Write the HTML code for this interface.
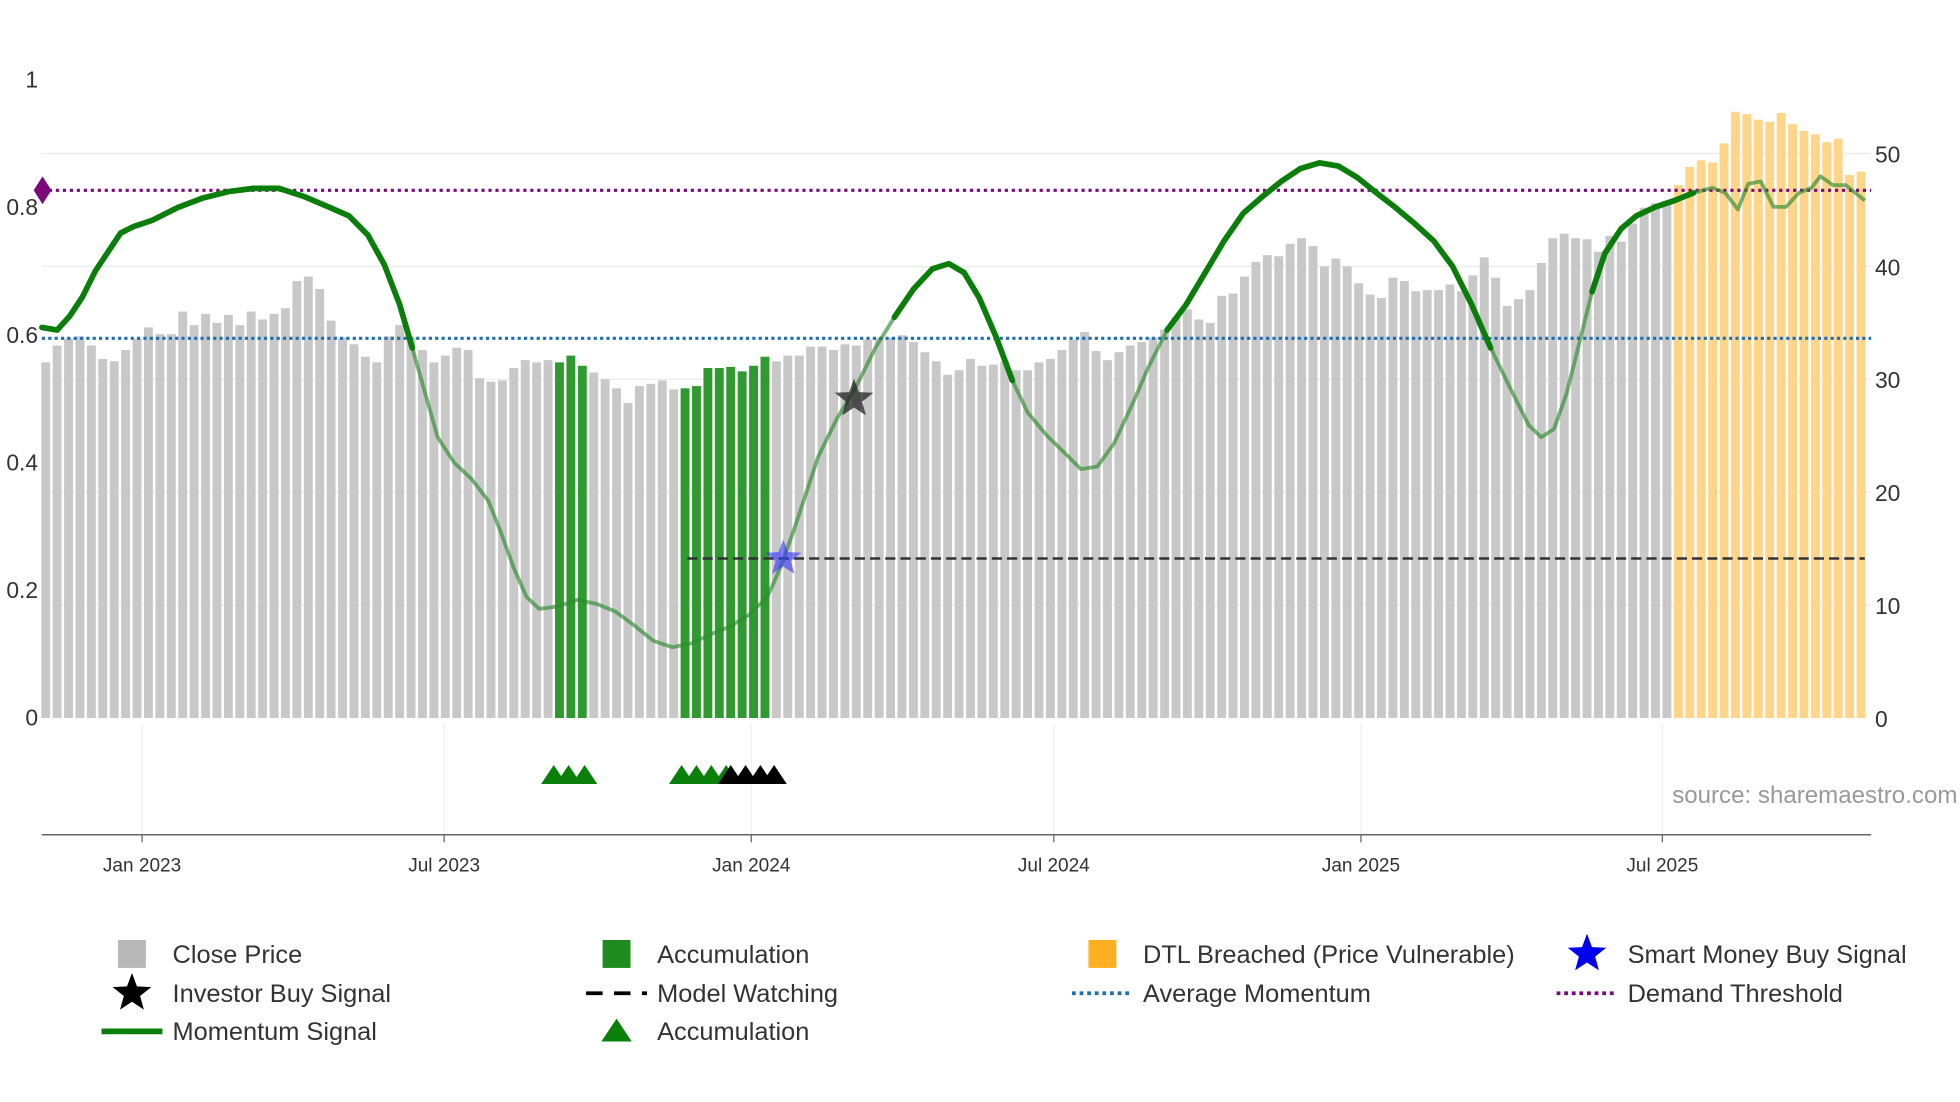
<!DOCTYPE html>
<html><head><meta charset="utf-8"><style>
html,body{margin:0;padding:0;background:#fff;}
svg{display:block;font-family:"Liberation Sans","DejaVu Sans",sans-serif;}
</style></head><body>
<svg id="chart" width="1960" height="1102" viewBox="0 0 1545 868.7" xmlns="http://www.w3.org/2000/svg">
<g id="grid"></g>
<g id="bars"></g>
<g id="lines"></g>
<g id="axes"></g>
<g id="legend"></g>
<text x="1543" y="633" text-anchor="end" font-size="19" fill="#999">source: sharemaestro.com</text>
</svg>
<script>
// ---- data ----
const prices = [31.5,33,33.6,33.8,33,31.8,31.6,32.6,33.6,34.6,34,34,36,34.8,35.8,35,35.7,34.8,36,35.3,35.8,36.3,38.7,39.1,38,35.2,33.7,33.1,32,31.5,33.8,34.8,33.7,32.6,31.5,32.1,32.8,32.6,30.1,29.8,29.9,31,31.7,31.5,31.7,31.5,32.1,31.2,30.6,30,29.2,27.9,29.4,29.6,29.9,29.1,29.2,29.4,31,31,31.1,30.7,31.2,32,31.6,32.1,32.1,32.9,32.9,32.6,33.1,33,33.5,33.7,33.7,33.9,33.3,32.4,31.6,30.4,30.8,31.8,31.2,31.3,31.6,30.8,30.8,31.5,31.8,32.6,33.5,34.2,32.5,31.7,32.4,33,33.3,33.7,34.4,35.5,36.2,35.3,35,37.4,37.6,39.1,40.4,41,40.9,42,42.5,41.8,40,40.7,40,38.5,37.5,37.2,39,38.7,37.8,37.9,37.9,38.4,37.8,39.2,40.8,39,36.5,37.1,37.9,40.3,42.5,42.9,42.5,42.4,41.3,42.7,42.2,43.8,45.2,45.6,45.8,47.2,48.8,49.4,49.2,50.9,53.7,53.5,53,52.8,53.6,52.6,52,51.7,51,51.3,48.1,48.4];
const accumIdx = [45,46,47,56,57,58,59,60,61,62,63];
const dtlStart = 143;
const momWeek = [-0.33,1,2.11,3.22,4.33,5.44,6.56,7.67,9.33,11.56,13.78,16,18.22,20.44,22.67,24.89,26.56,28.22,29.67,31,32.11,33.22,34.33,35.78,37.33,38.78,39.89,41,42.11,43.22,44.89,46.56,48.22,49.89,51.56,53.22,54.89,56.56,58.22,59.89,61.56,63.22,64.33,65.44,66.56,67.67,69.33,71,72.67,74.33,76,77.67,79.11,80.44,81.78,83.22,84.67,86,87.67,89.33,90.67,92.11,93.56,95.11,96.56,98.22,99.89,101.56,103.22,104.89,106.56,108.22,109.89,111.56,113.22,114.89,116.56,118.22,119.89,121.56,123.22,124.89,126.56,128.22,129.89,131,132.11,133.22,134.33,135.44,136.56,138,139.33,141,142.67,144.33,146,147.11,148.22,149.11,150.22,151.33,152.44,153.56,154.67,155.44,156.56,157.67,159.33];
const momVal = [0.612,0.608,0.63,0.66,0.70,0.73,0.76,0.77,0.78,0.80,0.815,0.825,0.83,0.83,0.817,0.80,0.787,0.757,0.71,0.648,0.58,0.51,0.44,0.40,0.374,0.34,0.29,0.235,0.19,0.171,0.175,0.185,0.179,0.167,0.145,0.121,0.111,0.117,0.131,0.143,0.161,0.19,0.235,0.29,0.35,0.41,0.47,0.52,0.58,0.628,0.672,0.704,0.712,0.698,0.658,0.598,0.529,0.479,0.443,0.414,0.39,0.394,0.43,0.489,0.549,0.608,0.648,0.698,0.748,0.791,0.817,0.841,0.861,0.87,0.865,0.847,0.823,0.80,0.775,0.748,0.708,0.648,0.58,0.519,0.459,0.44,0.453,0.509,0.588,0.668,0.728,0.767,0.787,0.801,0.811,0.823,0.831,0.823,0.797,0.837,0.841,0.801,0.801,0.823,0.831,0.849,0.835,0.835,0.811];
const avgMomentum = 0.595;
const demandThreshold = 0.827;
const modelWatchStart = 56.2, modelWatchLevel = 0.25;
const smartMoney = {week:64.6, value:0.25};
const investorBuy = {week:70.8, value:0.5};
const accumTriWeeks = [44.5,45.8,47.2,55.7,57,58.3,59.6];
const blackTriWeeks = [60,61.3,62.6,63.8];
const leftTicks = [0,0.2,0.4,0.6,0.8,1];
const rightTicks = [0,10,20,30,40,50];
const xTickLabels = ["Jan 2023","Jul 2023","Jan 2024","Jul 2024","Jan 2025","Jul 2025"];
const xTickWeeks = [8.44,34.9,61.8,88.3,115.2,141.6];

// ---- scales ----
const NS="http://www.w3.org/2000/svg";
const x = w => 36 + w*9.0;
const yL = v => 566 - v*503;
const yR = v => 566 - v*8.9;
function mk(parent,tag,attrs){const e=document.createElementNS(NS,tag);for(const k in attrs)e.setAttribute(k,attrs[k]);document.getElementById(parent).appendChild(e);return e;}

// grid
rightTicks.forEach(t=>{ if(t>0){const g=mk('grid','line',{x1:33,x2:1475,y1:yR(t),y2:yR(t),stroke:'#ebebeb','stroke-width':1});

}});
xTickWeeks.forEach(w=>{const g=mk('grid','line',{x1:x(w),x2:x(w),y1:570,y2:658,stroke:'#eef0f6','stroke-width':1});

});

// bars
prices.forEach((p,i)=>{
  let c='#c8c8c8', n='close-price-bar';
  if(accumIdx.includes(i)){c='#2f9a2f';n='accumulation-bar';}
  if(i>=dtlStart){c='#ffd58a';n='dtl-breached-bar';}
  const r=mk('bars','rect',{x:x(i)-3.5,y:yR(p),width:7,height:566-yR(p),fill:c});
  
  
});

// reference lines
let l=mk('lines','line',{x1:33,x2:1475,y1:yL(avgMomentum),y2:yL(avgMomentum),stroke:'#1f6fb0','stroke-width':2.5,'stroke-dasharray':'2.5,2.5'});


l=mk('lines','line',{x1:33,x2:1475,y1:yL(demandThreshold),y2:yL(demandThreshold),stroke:'#7a0a7a','stroke-width':2.5,'stroke-dasharray':'2.5,3'});


l=mk('lines','path',{d:`M${x(-0.5)-5},${yL(demandThreshold)} l7,-11 l7,11 l-7,11z`,fill:'#7a0a7a'});


l=mk('lines','line',{x1:x(modelWatchStart),x2:1470,y1:yL(modelWatchLevel),y2:yL(modelWatchLevel),stroke:'#333','stroke-width':2,'stroke-dasharray':'8,4'});



// momentum
const pts=momWeek.map((w,i)=>[x(w),yL(momVal[i])]);
l=mk('lines','path',{d:'M'+pts.map(p=>p.join(',')).join('L'),fill:'none',stroke:'#2e8b2e','stroke-width':3,'stroke-opacity':0.65,'stroke-linejoin':'round'});


let seg=[];
function flush(){ if(seg.length>1){const s=mk('lines','path',{d:'M'+seg.map(p=>p.join(',')).join('L'),fill:'none',stroke:'#0a7d0a','stroke-width':4.5,'stroke-linejoin':'round','stroke-linecap':'round'});

} seg=[]; }
momVal.forEach((v,i)=>{ if(v>=avgMomentum && momWeek[i]<dtlStart) seg.push(pts[i]); else {if(seg.length) seg.push(pts[i]); flush();} });
flush();

function star(cx,cy,r,fill,op){
  let d='';for(let k=0;k<10;k++){const a=-Math.PI/2+k*Math.PI/5;const rr=k%2?r*0.42:r;d+=(k?'L':'M')+(cx+rr*Math.cos(a)).toFixed(1)+','+(cy+rr*Math.sin(a)).toFixed(1);}
  return mk('lines','path',{d:d+'Z',fill:fill,'fill-opacity':op});
}
let s=star(x(smartMoney.week),yL(smartMoney.value),15,'#3030ff',0.6);


s=star(x(investorBuy.week),yL(investorBuy.value),16,'#222',0.75);



// triangles
accumTriWeeks.forEach(w=>{const t=mk('lines','path',{d:`M${x(w)-10},618 L${x(w)},603 L${x(w)+10},618Z`,fill:'#0a800a'});

});
blackTriWeeks.forEach(w=>{const t=mk('lines','path',{d:`M${x(w)-10},618 L${x(w)},603 L${x(w)+10},618Z`,fill:'#000'});

});

// axes
l=mk('axes','line',{x1:33,x2:1475,y1:658,y2:658,stroke:'#666','stroke-width':1.2});


leftTicks.forEach(t=>{const e=mk('axes','text',{x:30,y:yL(t)+6,'text-anchor':'end','font-size':18,fill:'#333'});e.textContent=String(t);

});
rightTicks.forEach(t=>{const e=mk('axes','text',{x:1478,y:yR(t)+7,'font-size':18,fill:'#333'});e.textContent=String(t);

});
xTickLabels.forEach((lab,i)=>{const tk=mk('axes','line',{x1:x(xTickWeeks[i]),x2:x(xTickWeeks[i]),y1:658,y2:664,stroke:'#666'});


const e=mk('axes','text',{x:x(xTickWeeks[i]),y:687,'text-anchor':'middle','font-size':15,fill:'#333'});e.textContent=lab;

});

// legend
const legendItems=[
 [104,752,'sq','#b8b8b8','Close Price'],[486,752,'sq','#1e8c1e','Accumulation'],[869,752,'sq','#ffb020','DTL Breached (Price Vulnerable)'],[1251,752,'star','#0000ee','Smart Money Buy Signal'],
 [104,783,'star','#000','Investor Buy Signal'],[486,783,'dash','#000','Model Watching'],[869,783,'dot','#1f6fb0','Average Momentum'],[1251,783,'dot','#7a0a7a','Demand Threshold'],
 [104,813,'line','#0a7d0a','Momentum Signal'],[486,813,'tri','#0a800a','Accumulation']];
legendItems.forEach(([lx,ly,kind,c,lab])=>{
  let ic;
  if(kind==='sq') ic=mk('legend','rect',{x:lx-11,y:ly-11,width:22,height:22,fill:c});
  else if(kind==='star') ic=star(lx,ly,16,c,1);
  else if(kind==='dash') ic=mk('legend','line',{x1:lx-24,x2:lx+24,y1:ly,y2:ly,stroke:c,'stroke-width':3,'stroke-dasharray':'13,9'});
  else if(kind==='dot') ic=mk('legend','line',{x1:lx-24,x2:lx+24,y1:ly,y2:ly,stroke:c,'stroke-width':3,'stroke-dasharray':'3,3'});
  else if(kind==='line') ic=mk('legend','line',{x1:lx-24,x2:lx+24,y1:ly,y2:ly,stroke:c,'stroke-width':4.5});
  else ic=mk('legend','path',{d:`M${lx-12},${ly+8} L${lx},${ly-10} L${lx+12},${ly+8}Z`,fill:c});
  if(ic.parentNode.id!=='legend') document.getElementById('legend').appendChild(ic);
  
  
  const t=mk('legend','text',{x:lx+32,y:ly+7,'font-size':20,fill:'#333'});t.textContent=lab;
  
  
});
</script>
</body></html>
